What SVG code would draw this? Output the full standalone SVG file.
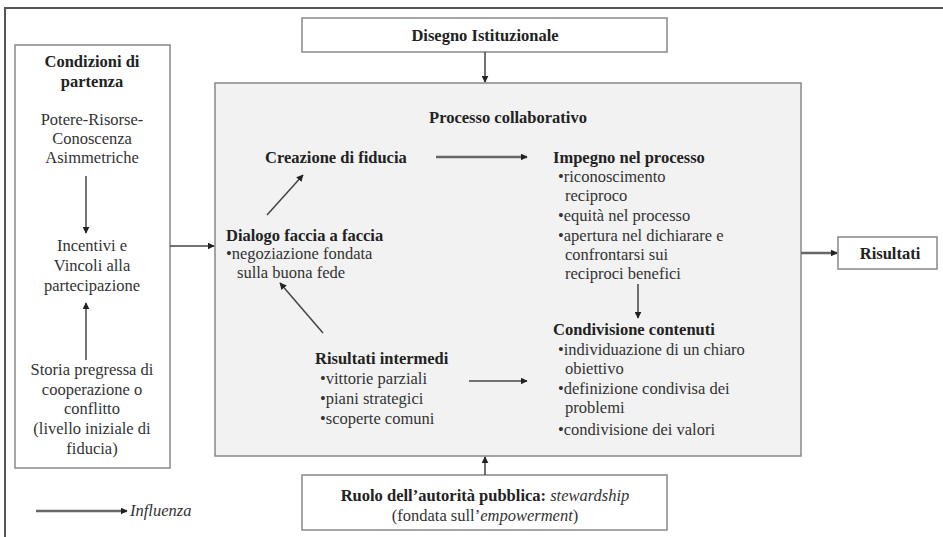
<svg xmlns="http://www.w3.org/2000/svg" width="943" height="537" viewBox="0 0 943 537" font-family="Liberation Serif, Times New Roman, serif" font-size="16.5">
<defs>
<marker id="ah" viewBox="0 0 10 10" refX="9" refY="5" markerWidth="7" markerHeight="7" markerUnits="userSpaceOnUse" orient="auto">
<path d="M0,0 L10,5 L0,10 z" fill="#222"/>
</marker>
</defs>
<style>
text{fill:#333}
.b{font-weight:bold;fill:#222}
.c{text-anchor:middle}
.i{font-style:italic}
.box{fill:#fff;stroke:#888;stroke-width:1.5}
.gbox{fill:#f2f2f2;stroke:#888;stroke-width:1.5}
.ar{stroke:#444;stroke-width:1.5;fill:none;marker-end:url(#ah)}
.ar2{stroke:#666;stroke-width:2.5;fill:none;marker-end:url(#ah)}
</style>
<rect width="943" height="537" fill="#fff"/>
<path d="M5,537 V8 H943" fill="none" stroke="#555" stroke-width="2"/>

<g id="condizioni">
<rect class="box" x="15" y="45" width="155" height="423"/>
<text class="b c" x="92" y="67">Condizioni di</text>
<text class="b c" x="92" y="87">partenza</text>
<text class="c" x="92" y="125">Potere-Risorse-</text>
<text class="c" x="92" y="144">Conoscenza</text>
<text class="c" x="92" y="163">Asimmetriche</text>
<text class="c" x="92" y="251">Incentivi e</text>
<text class="c" x="92" y="271">Vincoli alla</text>
<text class="c" x="92" y="291">partecipazione</text>
<text class="c" x="92" y="375">Storia pregressa di</text>
<text class="c" x="92" y="395">cooperazione o</text>
<text class="c" x="92" y="414">conflitto</text>
<text class="c" x="92" y="434">(livello iniziale di</text>
<text class="c" x="92" y="454">fiducia)</text>
</g>

<g id="disegno">
<rect class="box" x="302" y="18" width="365" height="34"/>
<text class="b c" x="485" y="41">Disegno Istituzionale</text>
</g>

<g id="processo">
<rect class="gbox" x="215" y="83" width="586" height="373"/>
<text class="b c" x="508" y="123">Processo collaborativo</text>
</g>

<g id="creazione">
<text class="b" x="265" y="163">Creazione di fiducia</text>
</g>

<g id="impegno">
<text class="b" x="553" y="163">Impegno nel processo</text>
<text x="558" y="182">•riconoscimento</text>
<text x="565" y="201">reciproco</text>
<text x="558" y="221">•equità nel processo</text>
<text x="558" y="241">•apertura nel dichiarare e</text>
<text x="565" y="260">confrontarsi sui</text>
<text x="565" y="279">reciproci benefici</text>
</g>

<g id="condivisione">
<text class="b" x="553" y="335">Condivisione contenuti</text>
<text x="558" y="355">•individuazione di un chiaro</text>
<text x="565" y="374">obiettivo</text>
<text x="558" y="394">•definizione condivisa dei</text>
<text x="565" y="413">problemi</text>
<text x="558" y="435">•condivisione dei valori</text>
</g>

<g id="dialogo">
<text class="b" x="226" y="241">Dialogo faccia a faccia</text>
<text x="226" y="259">•negoziazione fondata</text>
<text x="237" y="278">sulla buona fede</text>
</g>

<g id="intermedi">
<text class="b" x="315" y="364">Risultati intermedi</text>
<text x="320" y="384">•vittorie parziali</text>
<text x="320" y="404">•piani strategici</text>
<text x="320" y="424">•scoperte comuni</text>
</g>

<g id="risultati">
<rect class="box" x="838" y="237" width="99" height="32"/>
<text class="b c" x="890" y="259">Risultati</text>
</g>

<g id="ruolo">
<rect class="box" x="302" y="475" width="365" height="55"/>
<text class="c" x="485" y="501"><tspan class="b">Ruolo dell’autorità pubblica:</tspan> <tspan class="i">stewardship</tspan></text>
<text class="c" x="485" y="521">(fondata sull’<tspan class="i">empowerment</tspan>)</text>
</g>

<g id="legenda">
<line class="ar2" x1="36" y1="511" x2="127" y2="511"/>
<text class="i" x="130" y="516">Influenza</text>
</g>

<g id="connettori">
<line class="ar" x1="86" y1="176" x2="86" y2="233"/>
<line class="ar" x1="86" y1="360" x2="86" y2="303"/>
<line class="ar" x1="170" y1="246" x2="214" y2="246"/>
<line class="ar" x1="485" y1="52" x2="485" y2="82"/>
<line class="ar" x1="485" y1="475" x2="485" y2="457"/>
<line class="ar2" x1="801" y1="253" x2="837" y2="253"/>
<line class="ar2" x1="436" y1="157" x2="527" y2="157"/>
<line class="ar" x1="638" y1="284" x2="638" y2="318"/>
<line class="ar" x1="267" y1="215" x2="303" y2="175"/>
<line class="ar" x1="323" y1="333" x2="280" y2="283"/>
<line class="ar" x1="469" y1="381" x2="527" y2="381"/>
</g>
</svg>
